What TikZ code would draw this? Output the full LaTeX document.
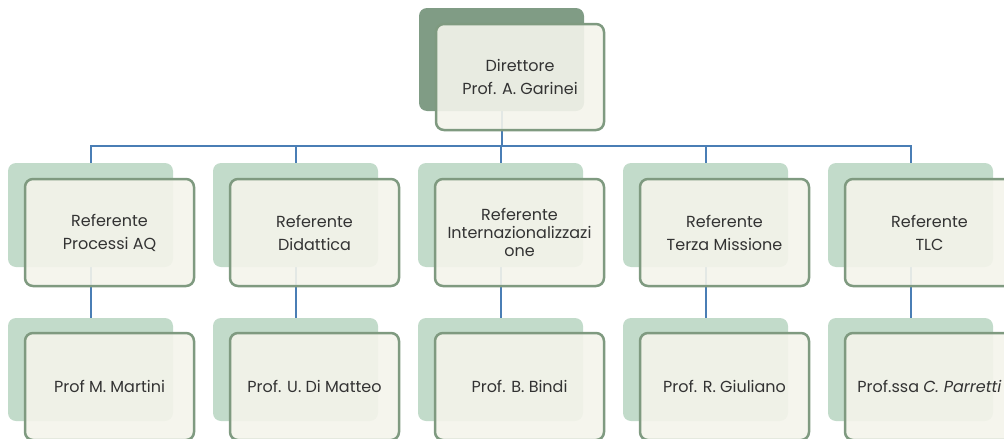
\documentclass[tikz,border=0pt]{standalone}
\usepackage{fontspec}
\setmainfont{Poppins}
\usetikzlibrary{calc}
\pgfdeclarelayer{background}
\pgfsetlayers{background,main}
\definecolor{darkback}{RGB}{128,156,133}
\definecolor{lightback}{RGB}{194,219,202}
\definecolor{frontfill}{RGB}{244,244,235}
\definecolor{frontdraw}{RGB}{127,154,128}
\definecolor{linkblue}{RGB}{74,126,181}
\definecolor{txt}{RGB}{51,51,51}
\tikzset{
  backbox/.style={draw=none, rounded corners=8pt, minimum width=165pt, minimum height=104pt, inner sep=0pt},
  frontbox/.style={draw=frontdraw, line width=2.5pt, fill=frontfill, fill opacity=0.9, text opacity=1,
     rounded corners=8pt, minimum width=168pt, minimum height=106pt, inner sep=2pt, align=center,
     text=txt, font=\fontsize{16}{23}\selectfont},
  conn/.style={draw=linkblue, line width=2pt}
}
\begin{document}
\begin{tikzpicture}[x=1pt,y=-1pt]
\useasboundingbox (0,0) rectangle (1004,439);
\clip (0,0) rectangle (1004,439);
% director
\node[backbox, fill=darkback, minimum height=103pt] (db) at (501.5,59.5) {};
\node[frontbox] (df) at (520,77) {Direttore\\Prof. A. Garinei};
% level 2 and 3
\foreach \i/\top/\bot in {0/{Referente\\Processi AQ}/{Prof M. Martini},
                          1/{Referente\\Didattica}/{Prof. U. Di Matteo},
                          3/{Referente\\Terza Missione}/{Prof. R. Giuliano},
                          4/{Referente\\TLC}/{Prof.ssa \textit{C. Parretti}}}{
  \node[backbox, fill=lightback] (b\i) at ({90.5+205*\i},215) {};
  \node[frontbox, minimum width=169pt, minimum height=107pt] (f\i) at ({109.5+205*\i},232.5) {\top};
  \node[backbox, fill=lightback, minimum height=103pt] (c\i) at ({90.5+205*\i},369.5) {};
  \node[frontbox, minimum width=169pt, minimum height=107pt] (g\i) at ({109.5+205*\i},386.5) {\bot};
}
\node[backbox, fill=lightback] (b2) at (500.5,215) {};
\node[frontbox, minimum width=169pt, minimum height=107pt, font=\fontsize{16}{18}\selectfont] (f2) at (519.5,232.5) {Referente\\Internazionalizzazi\\one};
\node[backbox, fill=lightback, minimum height=103pt] (c2) at (500.5,369.5) {};
\node[frontbox, minimum width=169pt, minimum height=107pt] (g2) at (519.5,386.5) {Prof. B. Bindi};
\coordinate (bus) at (0,146);
\begin{pgfonlayer}{background}
\foreach \i in {0,...,4}{
  \draw[conn] (db.center) -- (db.center |- bus) -| (b\i.center);
  \draw[conn] (b\i.center) -- (c\i.center);
}
\end{pgfonlayer}
\end{tikzpicture}
\end{document}
